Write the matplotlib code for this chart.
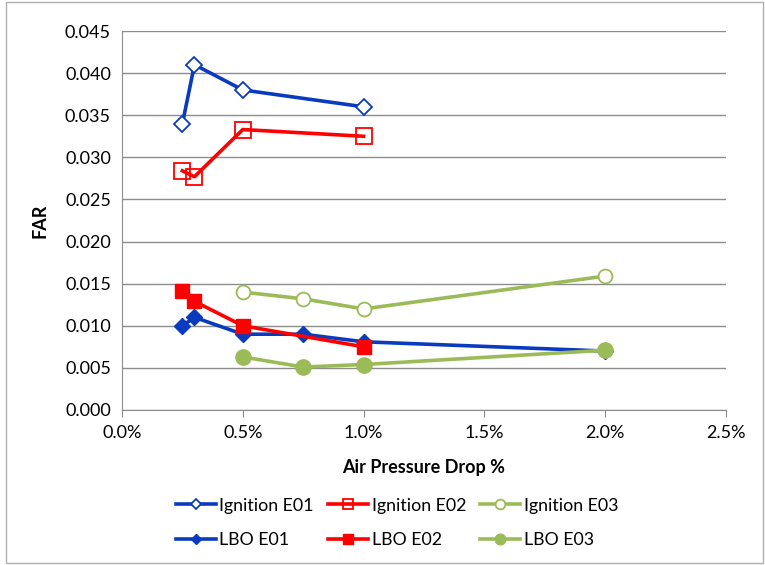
import numpy as np
import matplotlib.pyplot as plt
from matplotlib.ticker import FuncFormatter, MultipleLocator
from matplotlib.patches import Rectangle

plt.rcParams['font.family'] = ['Lato', 'DejaVu Sans']

# data (air pressure drop as fraction, FAR)
x_ign_e01 = [0.0025, 0.003, 0.005, 0.010]
ign_e01 = [0.0340, 0.0410, 0.0380, 0.0360]
x_ign_e02 = [0.0025, 0.003, 0.005, 0.010]
ign_e02 = [0.0284, 0.0277, 0.0333, 0.0325]
x_ign_e03 = [0.005, 0.0075, 0.010, 0.020]
ign_e03 = [0.0140, 0.0132, 0.0120, 0.0159]

x_lbo_e01 = [0.0025, 0.003, 0.005, 0.0075, 0.010, 0.020]
lbo_e01 = [0.0100, 0.0110, 0.0090, 0.0090, 0.0081, 0.0070]
x_lbo_e02 = [0.0025, 0.003, 0.005, 0.010]
lbo_e02 = [0.0141, 0.0129, 0.0100, 0.0075]
x_lbo_e03 = [0.005, 0.0075, 0.010, 0.020]
lbo_e03 = [0.0063, 0.0051, 0.0054, 0.0071]

blue = '#0a3bbf'
red = '#ff0000'
green = '#9bbb59'

fig = plt.figure(figsize=(7.65, 5.65), dpi=100)
ax = fig.add_axes([122/765, 1 - 410/565, (726-122)/765, (410-31)/565])

lw = 2.6
h1, = ax.plot(x_ign_e01, ign_e01, color=blue, lw=lw, marker='D', ms=8,
              mfc='white', mec=blue, mew=1.3, label='Ignition E01')
h2, = ax.plot(x_ign_e02, ign_e02, color=red, lw=lw, marker='s', ms=11,
              mfc='none', mec=red, mew=1.3, label='Ignition E02')
h3, = ax.plot(x_ign_e03, ign_e03, color=green, lw=lw, marker='o', ms=10,
              mfc='white', mec=green, mew=1.3, label='Ignition E03')
h4, = ax.plot(x_lbo_e01, lbo_e01, color=blue, lw=lw, marker='D', ms=8,
              label='LBO E01')
h5, = ax.plot(x_lbo_e02, lbo_e02, color=red, lw=lw, marker='s', ms=10,
              label='LBO E02')
h6, = ax.plot(x_lbo_e03, lbo_e03, color=green, lw=lw, marker='o', ms=11,
              label='LBO E03')

ax.set_xlim(0, 0.025)
ax.set_ylim(0, 0.045)
ax.xaxis.set_major_locator(MultipleLocator(0.005))
ax.yaxis.set_major_locator(MultipleLocator(0.005))
ax.xaxis.set_major_formatter(FuncFormatter(lambda v, p: '%.1f%%' % (v*100)))
ax.yaxis.set_major_formatter(FuncFormatter(lambda v, p: '%.3f' % v))
ax.grid(axis='y', color='#8c8c8c', lw=1)
ax.set_axisbelow(True)
for s in ['top', 'right']:
    ax.spines[s].set_visible(False)
ax.spines['left'].set_color('#8c8c8c')
ax.spines['bottom'].set_color('#8c8c8c')
ax.tick_params(axis='y', length=0, labelsize=13, pad=8)
ax.tick_params(axis='x', length=5, color='#8c8c8c', direction='out', labelsize=13, pad=6)

ax.set_xlabel('Air Pressure Drop %', fontsize=13, fontweight='bold', labelpad=13)
ax.set_ylabel('FAR', fontsize=13, fontweight='bold', labelpad=12)

# legend fills by column, so interleave to get Ignition on row 1, LBO on row 2
order = [h1, h4, h2, h5, h3, h6]
fig.legend(order, [h.get_label() for h in order],
           loc='center', bbox_to_anchor=(397/765, 1 - 523/565), ncol=3,
           frameon=False, fontsize=12.8, handlelength=2.25, handletextpad=0.2,
           columnspacing=0.8, labelspacing=1.05, markerscale=0.7)

fig.patches.append(Rectangle((0.008, 0.003), 0.99, 0.994, transform=fig.transFigure,
                             fill=False, ec='#b0b0b0', lw=1))

plt.savefig('out.png', dpi=100)
